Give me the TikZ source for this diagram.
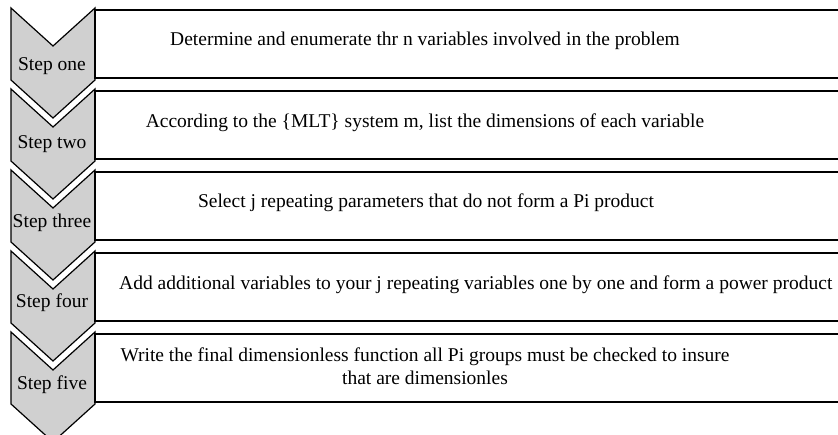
\documentclass[tikz,border=0pt]{standalone}
\usepackage{fontspec}
\setmainfont{Liberation Serif}
\definecolor{chevgray}{RGB}{208,208,208}
\tikzset{
	chev/.style={draw=black, fill=chevgray, line width=1.2pt, line join=miter},
	stepbox/.style={draw=black, line width=1.2pt},
	steplabel/.style={font=\fontsize{19.5}{22}\selectfont, inner sep=0pt},
	task/.style={font=\fontsize{19.5}{23}\selectfont, align=center, inner sep=0pt}
}
\begin{document}
\begin{tikzpicture}[x=1pt,y=-1pt]
	\useasboundingbox (0,0) rectangle (838,434);
	% chevrons
	\draw[chev] (11,8) -- (53,46) -- (95,8) -- (95,80) -- (53,118) -- (11,80) -- cycle;
	\draw[chev] (11,89) -- (53,127) -- (95,89) -- (95,161) -- (53,199) -- (11,161) -- cycle;
	\draw[chev] (11,170) -- (53,208) -- (95,170) -- (95,242) -- (53,280) -- (11,242) -- cycle;
	\draw[chev] (11,251) -- (53,289) -- (95,251) -- (95,323) -- (53,361) -- (11,323) -- cycle;
	\draw[chev] (11,332) -- (53,370) -- (95,332) -- (95,404) -- (53,442) -- (11,404) -- cycle;
	\node[steplabel] (step1) at (52,66) {Step one};
	\node[steplabel] (step2) at (52,144) {Step two};
	\node[steplabel] (step3) at (52,223) {Step three};
	\node[steplabel] (step4) at (52,303) {Step four};
	\node[steplabel] (step5) at (52,385) {Step five};
	% boxes
	\draw[stepbox] (95,10) rectangle (870,78);
	\draw[stepbox] (95,91) rectangle (870,159);
	\draw[stepbox] (95,172) rectangle (870,240);
	\draw[stepbox] (95,253) rectangle (870,321);
	\draw[stepbox] (95,334) rectangle (870,402);
	\node[task] (task1) at (425,41) {Determine and enumerate thr n variables involved in the problem};
	\node[task] (task2) at (425,123) {According to the \{MLT\} system m, list the dimensions of each variable};
	\node[task] (task3) at (426,203) {Select j repeating parameters that do not form a Pi product};
	\node[task, anchor=west] (task4) at (119,285) {Add additional variables to your j repeating variables one by one and form a power product};
	\node[task] (task5) at (425,366) {Write the final dimensionless function all Pi groups must be checked to insure\\that are dimensionles};
\end{tikzpicture}
\end{document}
